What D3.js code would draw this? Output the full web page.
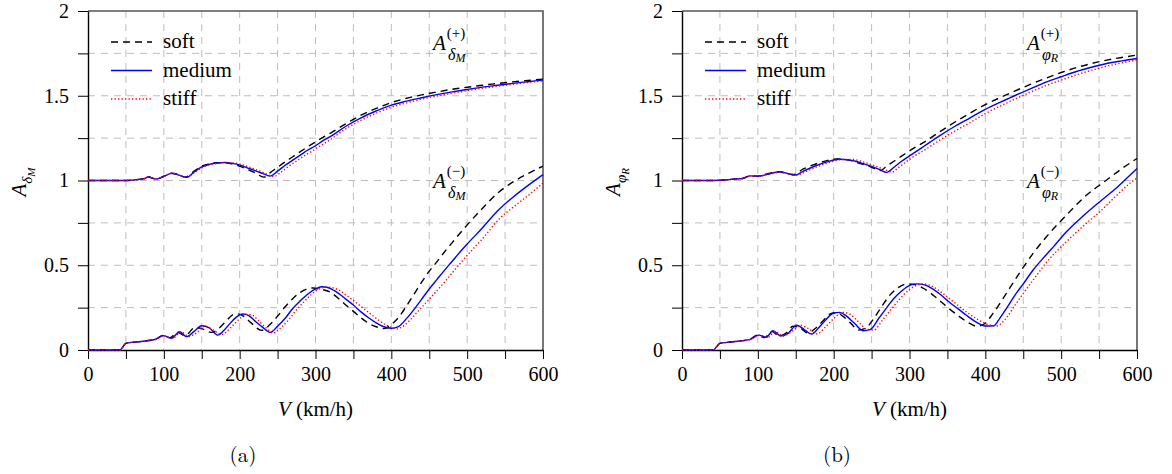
<!DOCTYPE html>
<html>
<head>
<meta charset="utf-8">
<script src="https://cdn.jsdelivr.net/npm/d3@7"></script>
</head>
<body style="margin:0">
<svg width="1172" height="474"></svg>
<script>
// ---- data: [V (km/h), amplification] ----
var seriesNames = ["soft", "medium", "stiff"];
var xTicks = [0, 50, 100, 150, 200, 250, 300, 350, 400, 450, 500, 550, 600];
var yTicks = [0, 0.25, 0.5, 0.75, 1, 1.25, 1.5, 1.75, 2];

// (a) delta_M
var plusSoftA = [[0,1],[40,1],[50,1.0],[60,1.003],[70,1.008],[75,1.012],[80,1.022],[85,1.014],[90,1.009],[100,1.025],[110,1.043],[115,1.040],[120,1.032],[128,1.02],[140,1.055],[150,1.085],[160,1.098],[170,1.105],[180,1.105],[190,1.098],[200,1.085],[210,1.066],[220,1.046],[232,1.02],[240,1.045],[250,1.078],[260,1.11],[270,1.14],[280,1.17],[290,1.20],[300,1.228],[310,1.255],[320,1.28],[340,1.335],[360,1.385],[380,1.425],[400,1.46],[420,1.485],[440,1.505],[460,1.522],[480,1.538],[500,1.55],[520,1.562],[540,1.572],[560,1.582],[580,1.59],[600,1.598]];
var plusMedA = [[0,1],[40,1],[50,1.0],[60,1.003],[70,1.008],[75,1.012],[80,1.022],[85,1.014],[90,1.009],[100,1.025],[110,1.042],[115,1.040],[120,1.032],[130,1.019],[140,1.05],[150,1.08],[160,1.095],[170,1.103],[180,1.106],[190,1.101],[200,1.092],[210,1.075],[220,1.058],[230,1.042],[240,1.026],[250,1.055],[260,1.09],[270,1.12],[280,1.15],[290,1.18],[300,1.205],[310,1.235],[320,1.26],[340,1.32],[360,1.37],[380,1.41],[400,1.445],[420,1.468],[440,1.488],[460,1.507],[480,1.523],[500,1.537],[520,1.551],[540,1.562],[560,1.573],[580,1.583],[600,1.593]];
var plusStiffA = [[0,1],[40,1],[50,1.0],[60,1.003],[70,1.008],[75,1.012],[80,1.022],[85,1.014],[90,1.009],[100,1.025],[110,1.041],[115,1.040],[120,1.032],[130,1.018],[140,1.045],[150,1.075],[160,1.092],[170,1.10],[180,1.106],[190,1.104],[200,1.097],[210,1.083],[220,1.067],[230,1.05],[245,1.024],[255,1.05],[265,1.085],[275,1.115],[285,1.145],[295,1.172],[305,1.2],[320,1.243],[340,1.305],[360,1.355],[380,1.397],[400,1.432],[420,1.458],[440,1.48],[460,1.498],[480,1.515],[500,1.53],[520,1.544],[540,1.556],[560,1.567],[580,1.578],[600,1.588]];
var minusSoftA = [[0,0],[42,0],[50,0.039],[60,0.046],[70,0.05],[80,0.056],[90,0.066],[99,0.086],[108,0.072],[118,0.105],[128,0.085],[141,0.132],[150,0.126],[163,0.104],[172,0.125],[182,0.17],[192,0.21],[197,0.213],[205,0.2],[215,0.16],[229,0.116],[240,0.15],[250,0.2],[260,0.255],[270,0.303],[280,0.34],[290,0.362],[297,0.366],[305,0.36],[320,0.34],[330,0.305],[340,0.265],[350,0.228],[360,0.19],[370,0.158],[380,0.137],[391,0.126],[400,0.15],[410,0.195],[420,0.26],[430,0.33],[440,0.4],[450,0.465],[460,0.52],[470,0.578],[480,0.632],[490,0.686],[500,0.738],[520,0.835],[540,0.925],[560,0.99],[580,1.04],[600,1.085]];
var minusMedA = [[0,0],[42,0],[50,0.039],[60,0.046],[70,0.05],[80,0.056],[90,0.065],[99,0.085],[110,0.069],[121,0.108],[130,0.079],[140,0.11],[150,0.143],[160,0.13],[171,0.088],[180,0.12],[190,0.17],[200,0.207],[205,0.212],[212,0.203],[220,0.172],[230,0.135],[240,0.104],[250,0.14],[260,0.187],[270,0.245],[280,0.29],[290,0.33],[300,0.36],[308,0.373],[315,0.37],[325,0.35],[340,0.30],[350,0.265],[360,0.225],[370,0.19],[380,0.16],[390,0.137],[400,0.128],[410,0.14],[420,0.185],[430,0.24],[440,0.30],[450,0.36],[460,0.415],[470,0.47],[480,0.522],[490,0.575],[500,0.625],[520,0.72],[540,0.82],[560,0.9],[580,0.97],[600,1.035]];
var minusStiffA = [[0,0],[42,0],[50,0.039],[60,0.046],[70,0.05],[80,0.056],[90,0.064],[100,0.083],[111,0.068],[123,0.105],[133,0.08],[143,0.1],[154,0.14],[165,0.118],[176,0.092],[190,0.14],[200,0.185],[209,0.21],[216,0.207],[225,0.172],[235,0.13],[244,0.1],[255,0.135],[265,0.18],[273,0.226],[285,0.285],[295,0.33],[305,0.36],[315,0.371],[322,0.368],[332,0.35],[342,0.318],[352,0.285],[362,0.25],[372,0.215],[382,0.18],[392,0.15],[400,0.133],[407,0.124],[415,0.138],[425,0.178],[435,0.228],[445,0.275],[455,0.324],[470,0.4],[485,0.48],[500,0.558],[520,0.655],[543,0.777],[560,0.84],[580,0.91],[600,0.985]];

// (b) phi_R
var plusSoftB = [[0,1],[40,1],[60,1.004],[70,1.009],[80,1.012],[90,1.027],[100,1.026],[110,1.037],[120,1.047],[128,1.052],[138,1.04],[147,1.035],[160,1.068],[173,1.092],[190,1.116],[205,1.127],[220,1.12],[235,1.1],[250,1.078],[261,1.058],[270,1.085],[280,1.115],[290,1.145],[300,1.175],[310,1.202],[320,1.228],[340,1.288],[360,1.345],[380,1.398],[400,1.448],[420,1.49],[440,1.53],[460,1.568],[480,1.604],[500,1.637],[520,1.666],[540,1.69],[560,1.71],[580,1.726],[600,1.74]];
var plusMedB = [[0,1],[40,1],[60,1.004],[70,1.009],[80,1.012],[90,1.027],[100,1.025],[112,1.036],[120,1.045],[129,1.052],[140,1.04],[149,1.032],[160,1.055],[173,1.081],[190,1.108],[208,1.125],[220,1.122],[230,1.112],[240,1.098],[250,1.083],[260,1.066],[270,1.048],[280,1.08],[290,1.115],[300,1.145],[310,1.175],[320,1.205],[340,1.265],[360,1.32],[380,1.37],[400,1.42],[420,1.462],[440,1.503],[460,1.542],[480,1.58],[500,1.612],[520,1.643],[540,1.668],[560,1.69],[580,1.706],[600,1.72]];
var plusStiffB = [[0,1],[40,1],[60,1.004],[70,1.009],[80,1.012],[90,1.026],[100,1.024],[113,1.035],[122,1.044],[131,1.05],[142,1.038],[151,1.03],[162,1.05],[175,1.076],[192,1.103],[210,1.123],[225,1.124],[240,1.108],[255,1.085],[267,1.065],[277,1.05],[285,1.075],[295,1.108],[305,1.14],[320,1.18],[340,1.238],[360,1.292],[380,1.342],[400,1.395],[420,1.44],[440,1.482],[460,1.522],[480,1.56],[500,1.592],[520,1.623],[540,1.65],[560,1.674],[580,1.694],[600,1.711]];
var minusSoftB = [[0,0],[41,0],[50,0.039],[60,0.045],[70,0.05],[80,0.055],[90,0.064],[99,0.088],[109,0.073],[118,0.11],[128,0.085],[140,0.11],[146,0.14],[156,0.13],[166,0.1],[176,0.128],[186,0.172],[196,0.215],[203,0.22],[212,0.2],[222,0.16],[233,0.118],[243,0.132],[255,0.2],[265,0.268],[275,0.328],[285,0.368],[297,0.39],[307,0.386],[320,0.36],[335,0.31],[350,0.252],[365,0.2],[378,0.16],[389,0.14],[398,0.152],[410,0.215],[420,0.28],[430,0.35],[440,0.42],[463,0.57],[480,0.665],[507,0.796],[530,0.9],[560,1.003],[580,1.07],[600,1.13]];
var minusMedB = [[0,0],[41,0],[50,0.039],[60,0.045],[70,0.05],[80,0.055],[90,0.063],[101,0.088],[111,0.075],[120,0.114],[130,0.083],[140,0.098],[151,0.147],[160,0.125],[171,0.094],[180,0.13],[190,0.18],[200,0.218],[208,0.222],[217,0.2],[228,0.155],[239,0.114],[248,0.12],[260,0.19],[270,0.25],[279,0.302],[290,0.35],[301,0.383],[310,0.39],[320,0.384],[330,0.362],[340,0.33],[353,0.28],[365,0.24],[375,0.205],[388,0.165],[400,0.142],[411,0.143],[419,0.187],[430,0.26],[440,0.33],[450,0.39],[463,0.472],[480,0.56],[490,0.61],[507,0.698],[530,0.795],[551,0.875],[570,0.945],[584,1.003],[600,1.07]];
var minusStiffB = [[0,0],[41,0],[50,0.039],[60,0.045],[70,0.05],[80,0.055],[90,0.062],[103,0.087],[113,0.074],[123,0.108],[133,0.083],[145,0.11],[157,0.145],[167,0.125],[178,0.095],[190,0.14],[200,0.185],[212,0.222],[222,0.21],[233,0.165],[244,0.122],[253,0.118],[265,0.18],[275,0.235],[285,0.29],[298,0.35],[310,0.382],[318,0.39],[330,0.375],[345,0.33],[360,0.277],[375,0.225],[390,0.18],[405,0.148],[415,0.142],[425,0.175],[440,0.27],[463,0.413],[485,0.54],[507,0.639],[530,0.735],[551,0.816],[575,0.92],[591,0.985],[600,1.015]];

var styles = {
  soft:   { stroke: "#000", dash: "7,5" },
  medium: { stroke: "#0000ff", dash: null },
  stiff:  { stroke: "#ff0000", dash: "1.3,2.2" }
};

var svg = d3.select("svg");
var pw = 455, plotTop = 11, plotBottom = 350;
var serif = "'Liberation Serif'";

function label(g, x, y, size) {
  return g.append("text").attr("x", x).attr("y", y)
    .style("font-family", serif).style("font-size", size + "px").attr("fill", "#000");
}

function drawPanel(x0, sets, greek, subLetter, caption, capX) {
  var x = d3.scaleLinear().domain([0, 600]).range([x0, x0 + pw]);
  var y = d3.scaleLinear().domain([0, 2]).range([plotBottom, plotTop]);
  var g = svg.append("g");

  // grid
  g.append("g").selectAll("line").data(xTicks.slice(1, -1)).enter().append("line")
    .attr("x1", function(d) { return x(d); }).attr("x2", function(d) { return x(d); })
    .attr("y1", plotTop).attr("y2", plotBottom)
    .attr("stroke", "#bdbdbd").attr("stroke-dasharray", "7,6");
  g.append("g").selectAll("line").data(yTicks.slice(1, -1)).enter().append("line")
    .attr("x1", x0).attr("x2", x0 + pw)
    .attr("y1", function(d) { return y(d); }).attr("y2", function(d) { return y(d); })
    .attr("stroke", "#bdbdbd").attr("stroke-dasharray", "7,6");

  // frame
  g.append("path").attr("d", "M" + x0 + "," + plotTop + "H" + (x0 + pw) + "V" + plotBottom)
    .attr("fill", "none").attr("stroke", "#555").attr("stroke-width", 1.6);

  // axes
  var xAxis = d3.axisBottom(x).tickValues(xTicks).tickSize(9).tickSizeOuter(0).tickPadding(8)
    .tickFormat(function(d) { return d % 100 === 0 ? d : ""; });
  var yAxis = d3.axisLeft(y).tickValues(yTicks).tickSize(10).tickSizeOuter(0).tickPadding(9)
    .tickFormat(function(d) { return (d * 4) % 2 === 0 ? d3.format("")(d) : ""; });
  var gx = g.append("g").attr("transform", "translate(0," + plotBottom + ")").call(xAxis);
  var gy = g.append("g").attr("transform", "translate(" + x0 + ",0)").call(yAxis);
  [gx, gy].forEach(function(a) {
    a.attr("font-family", null).attr("font-size", null);
    a.select(".domain").attr("stroke", "#000").attr("stroke-width", 1.4);
    a.selectAll(".tick line").attr("stroke", "#000").attr("stroke-width", 1);
    a.selectAll(".tick text").attr("fill", "#000")
      .style("font-family", serif).style("font-size", "20px");
  });

  // curves
  var line = d3.line().x(function(d) { return x(d[0]); }).y(function(d) { return y(d[1]); })
    .curve(d3.curveMonotoneX);
  sets.forEach(function(s) {
    var st = styles[s.name];
    g.append("path").datum(s.data).attr("d", line).attr("fill", "none")
      .attr("stroke", st.stroke).attr("stroke-width", 1.4)
      .attr("stroke-dasharray", st.dash);
  });

  // legend
  seriesNames.forEach(function(n, i) {
    var ly = 42 + i * 28.5, st = styles[n];
    g.append("line").attr("x1", x0 + 23).attr("x2", x0 + 64).attr("y1", ly).attr("y2", ly)
      .attr("stroke", st.stroke).attr("stroke-width", 1.4).attr("stroke-dasharray", st.dash);
    label(g, x0 + 75, ly + 6, 21).text(n);
  });

  // curve annotations
  [["(+)", 50], ["(\u2212)", 188]].forEach(function(a) {
    var t = label(g, x0 + 345, a[1], 21);
    t.append("tspan").style("font-style", "italic").text("A");
    t.append("tspan").style("font-size", "15px").attr("dy", -12).attr("dx", 1).text(a[0]);
    var s = label(g, x0 + 360, a[1] + 10, 16);
    s.append("tspan").style("font-style", "italic").text(greek);
    s.append("tspan").style("font-style", "italic").style("font-size", "12px").attr("dy", 2).text(subLetter);
  });

  // axis titles
  var yt = label(g, 0, 0, 21).attr("text-anchor", "middle")
    .attr("transform", "translate(" + (x0 - 62) + ",182) rotate(-90)");
  yt.append("tspan").style("font-style", "italic").text("A");
  yt.append("tspan").style("font-style", "italic").style("font-size", "15px").attr("dy", 6).text(greek);
  yt.append("tspan").style("font-style", "italic").style("font-size", "11px").attr("dy", 3).text(subLetter);

  var xt = label(g, x0 + pw / 2, 416, 21).attr("text-anchor", "middle");
  xt.append("tspan").style("font-style", "italic").text("V");
  xt.append("tspan").text(" (km/h)");

  label(g, capX, 462, 21).attr("text-anchor", "middle")
    .style("font-family", "'Latin Modern Roman'").text(caption);
}

drawPanel(88, [
  { name: "soft", data: plusSoftA }, { name: "medium", data: plusMedA }, { name: "stiff", data: plusStiffA },
  { name: "soft", data: minusSoftA }, { name: "medium", data: minusMedA }, { name: "stiff", data: minusStiffA }
], "\u03b4", "M", "(a)", 243);

drawPanel(682, [
  { name: "soft", data: plusSoftB }, { name: "medium", data: plusMedB }, { name: "stiff", data: plusStiffB },
  { name: "soft", data: minusSoftB }, { name: "medium", data: minusMedB }, { name: "stiff", data: minusStiffB }
], "\u03c6", "R", "(b)", 837);
</script>
</body>
</html>
